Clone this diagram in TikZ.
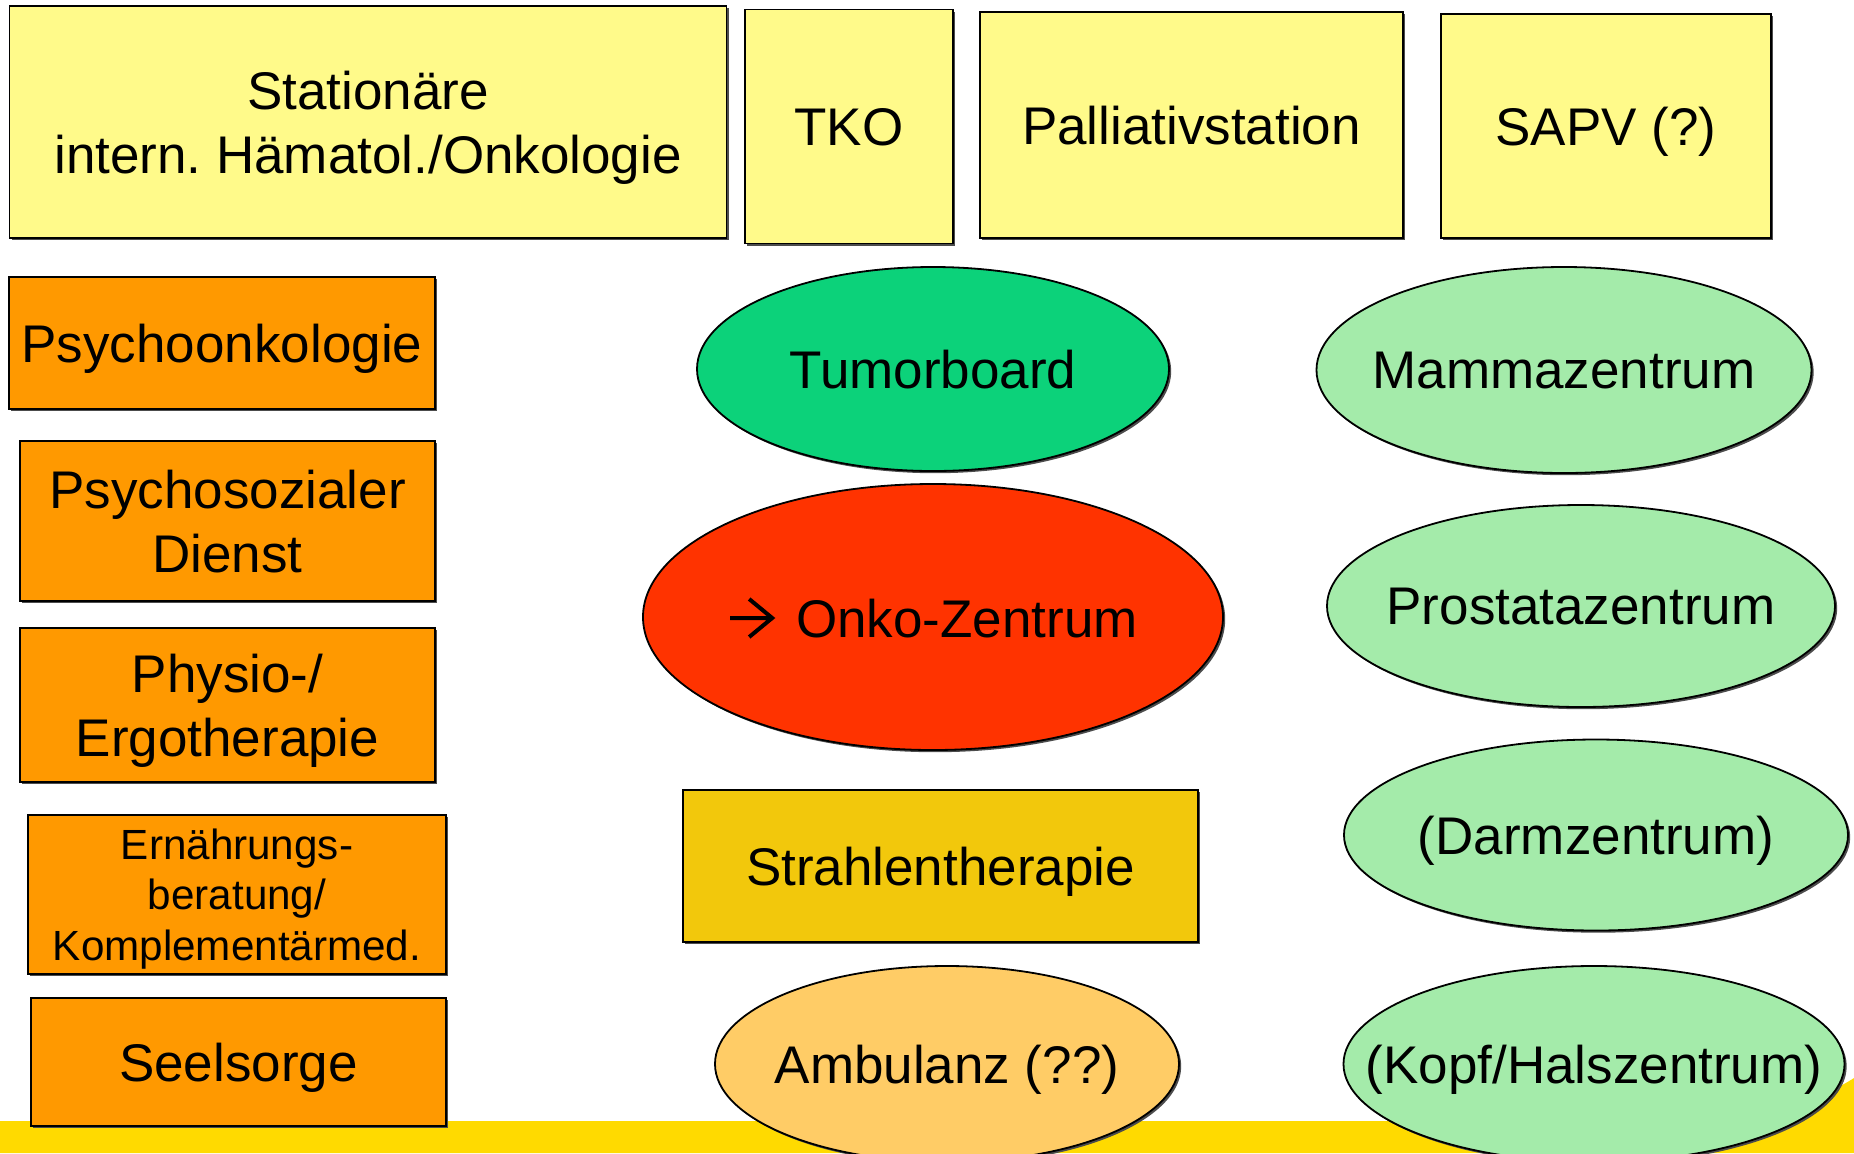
\documentclass[tikz,border=0pt]{standalone}
\usepackage{fontspec}
\setmainfont{Liberation Sans}
\usetikzlibrary{shapes,shadows}
\definecolor{stationgelb}{HTML}{FFFA8A}
\definecolor{dienstorange}{HTML}{FF9900}
\definecolor{boardgruen}{HTML}{0CD27A}
\definecolor{onkorot}{HTML}{FF3300}
\definecolor{strahlgelb}{HTML}{F2C80C}
\definecolor{ambulanzorange}{HTML}{FFCC66}
\definecolor{zentrumgruen}{HTML}{A4EBAA}
\definecolor{bandgelb}{HTML}{FFDA00}
\frenchspacing

\begin{document}
\begin{tikzpicture}[x=0.5pt,y=-0.5pt,
		feld/.style={draw=black, line width=0.9pt, align=center, inner sep=0pt, text depth=0pt,
			font=\fontsize{26.5}{31.8}\selectfont,
			drop shadow={shadow xshift=1.1pt, shadow yshift=-1.1pt, fill=black!70, opacity=1}},
		kasten/.style={feld, rectangle},
		oval/.style={feld, ellipse, inner sep=-80pt}]
		\clip (0,0) rectangle (1854,1153);
		\useasboundingbox (0,0) rectangle (1854,1153);
		
		% gelber Streifen unten
		\fill[bandgelb] (0,1121) -- (1690,1121) .. controls (1765,1118) and (1820,1100) .. (1854,1078) -- (1854,1153) -- (0,1153) -- cycle;
		
		% obere Reihe
		\node[kasten, fill=stationgelb, minimum width=358.5pt, minimum height=116pt] at (368, 122) (stat) {Station\"are\\intern. H\"amatol./Onkologie};
		\node[kasten, fill=stationgelb, minimum width=104pt, minimum height=117pt] at (849, 126.5) (tko) {TKO};
		\node[kasten, fill=stationgelb, minimum width=211.5pt, minimum height=113pt] at (1191.5, 125) (pall) {Palliativstation};
		\node[kasten, fill=stationgelb, minimum width=165pt, minimum height=112pt] at (1606, 126) (sapv) {SAPV (?)};
		
		% linke Spalte
		\node[kasten, fill=dienstorange, minimum width=213pt, minimum height=66pt] at (222, 343) (psyonk) {Psychoonkologie};
		\node[kasten, fill=dienstorange, minimum width=207.5pt, minimum height=80pt] at (227.5, 521) (psysoz) {Psychosozialer\\Dienst};
		\node[kasten, fill=dienstorange, minimum width=207.5pt, minimum height=77pt] at (227.5, 705) (physio) {Physio-/\\Ergotherapie};
		\node[kasten, fill=dienstorange, minimum width=209pt, minimum height=79.5pt, font=\fontsize{21.1}{25.4}\selectfont] at (237, 894.5) (ern) {Ern\"ahrungs-\\beratung/\\Komplement\"armed.};
		\node[kasten, fill=dienstorange, minimum width=207.5pt, minimum height=64pt] at (238.5, 1062) (seel) {Seelsorge};
		
		% Mitte
		\node[oval, fill=boardgruen, minimum width=236pt, minimum height=102pt] at (933, 369) (tumor) {Tumorboard};
		\node[oval, fill=onkorot, minimum width=290pt, minimum height=133pt] at (933, 617) (onko) {\tikz[baseline=0pt] \draw[line width=2pt, x=1pt, y=1pt] (0,9.5) -- (21,9.5) (9.5,19) -- (21,9.5) -- (9.5,0);\hspace{11pt}Onko-Zentrum};
		\node[kasten, fill=strahlgelb, minimum width=257.5pt, minimum height=76pt] at (940.5, 866) (strahl) {Strahlentherapie};
		\node[oval, fill=ambulanzorange, minimum width=232pt, minimum height=98pt] at (947, 1064) (amb) {Ambulanz (??)};
		
		% rechte Spalte
		\node[oval, fill=zentrumgruen, minimum width=247.5pt, minimum height=103pt] at (1564, 370) (mamma) {Mammazentrum};
		\node[oval, fill=zentrumgruen, minimum width=254pt, minimum height=101pt] at (1581, 606) (prost) {Prostatazentrum};
		\node[oval, fill=zentrumgruen, minimum width=252pt, minimum height=95.5pt] at (1596, 835) (darm) {(Darmzentrum)};
		\node[oval, fill=zentrumgruen, minimum width=250.5pt, minimum height=98pt] at (1594, 1064) (kopf) {(Kopf/Halszentrum)};
	\end{tikzpicture}
\end{document}
